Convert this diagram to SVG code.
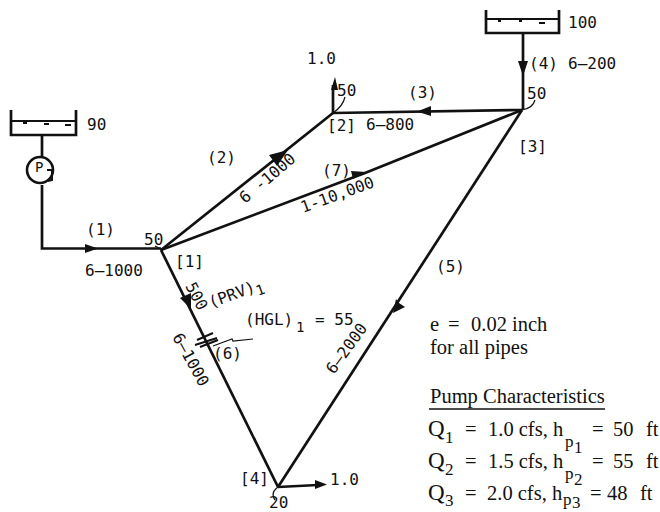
<svg xmlns="http://www.w3.org/2000/svg" width="660" height="512" viewBox="0 0 660 512">
<style>
text{font-family:"DejaVu Sans Mono","Liberation Mono",monospace;font-size:16px;fill:#111}
text.m{font-size:14px}
text.s{font-family:"Liberation Serif","Times New Roman",serif;font-size:20.5px}
text.q{font-family:"Liberation Serif","Times New Roman",serif;font-size:23px}
text.b{font-family:"Liberation Serif","Times New Roman",serif;font-size:17px}
.p{fill:none;stroke:#111;stroke-width:2.7}
.t{fill:none;stroke:#111;stroke-width:1.2}
.w{fill:none;stroke:#111;stroke-width:2}
.a{fill:#111}
</style>
<rect width="660" height="512" fill="#fff"/>
<g id="connectors">
<path class="p" d="M42 135V157M42 185V248.500H161"/>
<path class="p" d="M161 250L333 113"/>
<path class="p" d="M161 250L365 173 522 110"/>
<path class="p" d="M522 110L333 113"/>
<path class="p" d="M523 33V110"/>
<path class="p" d="M522 110L278 487"/>
<path class="p" d="M161 250L278 487"/>
<path class="p" d="M333 113V85"/>
<path class="p" d="M278 487L318 485"/>
<path class="a" d="M85 244L98 248.500 85 253Z"/>
<path class="a" d="M269 155L288 150 277 166Z"/>
<path class="a" d="M351 171L366 172 353 179Z"/>
<path class="a" d="M431 106L417 111.500 431 116Z"/>
<path class="a" d="M518 61H528L523 76Z"/>
<path class="a" d="M393 313L396 299 399 303 405 307Z"/>
<path class="a" d="M180 298L191 293 191 309Z"/>
<path class="a" d="M335 77L338 90 331 90Z"/>
<path class="a" d="M315 480L327 484.500 315 489Z"/>
<path class="t" d="M333 113Q343 106 345 97M522 110Q533 108 535 100M278 487Q270 493 275 500M155 246L161 249"/>
<path class="w" d="M197 340L213 333M195 345L217 338M200 347L218 340"/>
<path class="t" d="M213 346L232 339 233 341 253 339"/>
</g>
<g id="tank-90">
<path class="p" d="M11 110V135H76V110"/>
<path class="w" d="M11 121H76M23 123H27M44 124H49M65 125H71"/>
<text x="87" y="130">90</text>
</g>
<g id="pump">
<circle cx="40" cy="170" r="13" fill="#fff" stroke="#111" stroke-width="2.600"/>
<text class="m" x="35" y="172">P</text>
<path class="w" d="M47 170H52V180L48 181"/>
</g>
<g id="tank-100">
<path class="p" d="M486 10V33H559V10"/>
<path class="w" d="M486 19H559M498 21H501M519 21H522M539 23H545"/>
<text x="568" y="28">100</text>
</g>
<g id="node-1">
<text x="144" y="245">50</text>
<text x="175" y="267">[1]</text>
</g>
<g id="node-2">
<text x="337" y="96">50</text>
<text x="327" y="131">[2]</text>
<text x="307" y="64">1.0</text>
</g>
<g id="node-3">
<text x="527" y="99">50</text>
<text x="518" y="152">[3]</text>
</g>
<g id="node-4">
<text x="240" y="484">[4]</text>
<text x="330" y="485">1.0</text>
<text x="269" y="508">20</text>
</g>
<g id="labels">
<text x="86" y="235">(1)</text>
<text x="85" y="276">6–1000</text>
<text x="207" y="163">(2)</text>
<text transform="translate(245 204) rotate(-40)">6 -1000</text>
<text x="408" y="98">(3)</text>
<text x="366" y="130">6–800</text>
<text x="529" y="69">(4)</text>
<text x="568" y="69">6–200</text>
<text x="436" y="272">(5)</text>
<text transform="translate(334 375) rotate(-54)">6–2000</text>
<text x="213" y="359">(6)</text>
<text transform="translate(172 337) rotate(61)">6–1000</text>
<text transform="translate(185 286) rotate(62)">500</text>
<text transform="translate(211 308) rotate(-20)">(PRV)</text>
<text class="m" transform="translate(258 296) rotate(-20)">1</text>
<text x="322" y="176">(7)</text>
<text transform="translate(303 213) rotate(-20)">1-10,000</text>
<text x="245" y="325">(HGL)</text>
<text class="m" x="296" y="332">1</text>
<text x="315" y="325">= 55</text>
</g>
<g id="notes">
<text class="s" x="430" y="331">e</text>
<text class="s" x="448" y="331">=</text>
<text class="s" x="471" y="331">0.02 inch</text>
<text class="s" x="430" y="354">for all pipes</text>
<text class="s" x="430" y="403">Pump Characteristics</text>
<path d="M429 409H605" stroke="#111" stroke-width="1.500"/>
<text class="q" x="428" y="436">Q</text><text class="b" x="445" y="443">1</text>
<text class="s" x="465" y="436">=</text><text class="s" x="488" y="436">1.0 cfs, h</text><text class="b" x="565" y="447">p</text><text class="b" x="574" y="453">1</text>
<text class="s" x="592" y="436">=</text><text class="s" x="613" y="436">50</text><text class="s" x="646" y="436">ft</text>
<text class="q" x="428" y="468">Q</text><text class="b" x="445" y="475">2</text>
<text class="s" x="465" y="468">=</text><text class="s" x="488" y="468">1.5 cfs, h</text><text class="b" x="565" y="479">p</text><text class="b" x="574" y="485">2</text>
<text class="s" x="592" y="468">=</text><text class="s" x="613" y="468">55</text><text class="s" x="646" y="468">ft</text>
<text class="q" x="428" y="500">Q</text><text class="b" x="445" y="506">3</text>
<text class="s" x="465" y="500">=</text><text class="s" x="487" y="500">2.0 cfs, h</text><text class="b" x="563" y="505">p</text><text class="b" x="572" y="508">3</text>
<text class="s" x="590" y="500">=</text><text class="s" x="607" y="500">48</text><text class="s" x="640" y="500">ft</text>
</g>
</svg>
